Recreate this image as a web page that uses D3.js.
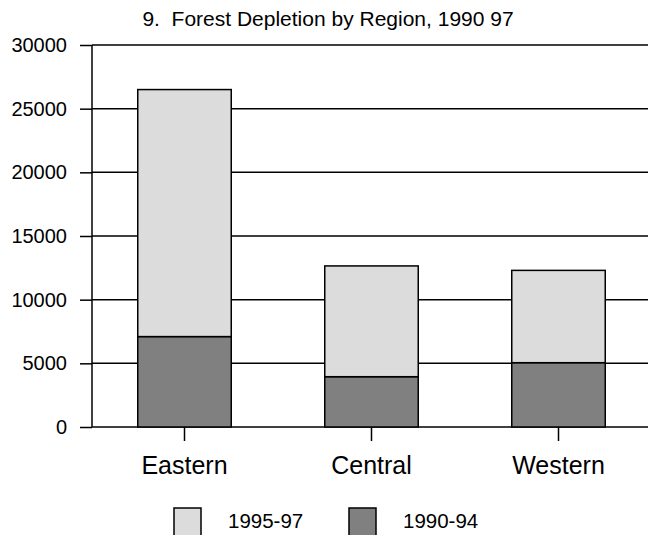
<!DOCTYPE html>
<html><head><meta charset="utf-8">
<script src="https://cdn.jsdelivr.net/npm/d3@7"></script>
<style>body{margin:0;background:#fff}svg{display:block}text{font-family:"Liberation Sans",Arial,sans-serif;fill:#000}</style>
</head><body><svg id="c" width="648" height="535"></svg>
<script>
const categories = ["Eastern","Central","Western"];
const series = ["1990-94","1995-97"];
const v1990_94 = [7100, 3950, 5050];
const v1995_97 = [19400, 8700, 7250];
const yTicks = [0,5000,10000,15000,20000,25000,30000];
const legendItems = ["1995-97","1990-94"];
const colors = {"1990-94":"#808080","1995-97":"#dcdcdc"};

const svg = d3.select("#c");
const x = d3.scaleBand().domain(categories).range([91,652]).paddingInner(0.5).paddingOuter(0.25);
const y = d3.scaleLinear().domain([0,30000]).range([427,45]);

svg.append("text").attr("x",328).attr("y",26).attr("text-anchor","middle").attr("font-size",21)
  .attr("xml:space","preserve").text("9.  Forest Depletion by Region, 1990 97");

// gridlines
svg.append("g").selectAll("line").data(yTicks).join("line")
  .attr("x1",92).attr("x2",648).attr("y1",d=>y(d)).attr("y2",d=>y(d))
  .attr("stroke","#000").attr("stroke-width",1.5);

const yAxis = d3.axisLeft(y).tickValues(yTicks).tickSize(12).tickPadding(13).tickFormat(d3.format("d"));
const gy = svg.append("g").attr("transform","translate(92,0)").call(yAxis);
gy.select(".domain").attr("stroke","#000").attr("stroke-width",1.5).attr("d","M0,45V427");
gy.selectAll(".tick line").attr("stroke","#000").attr("stroke-width",1.5);
gy.selectAll("text").attr("font-size",20).attr("font-family","Liberation Sans, Arial, sans-serif");

const data = categories.map((c,i)=>({cat:c,"1990-94":v1990_94[i],"1995-97":v1995_97[i]}));
const stacked = d3.stack().keys(series)(data);
svg.append("g").selectAll("g").data(stacked).join("g").attr("fill",d=>colors[d.key])
  .selectAll("rect").data(d=>d).join("rect")
  .attr("x",d=>x(d.data.cat)).attr("width",x.bandwidth())
  .attr("y",d=>y(d[1])).attr("height",d=>y(d[0])-y(d[1]))
  .attr("stroke","#000").attr("stroke-width",1.5);

const xAxis = d3.axisBottom(x).tickSize(14).tickPadding(15);
const gx = svg.append("g").attr("transform","translate(0,427)").call(xAxis);
gx.select(".domain").remove();
gx.selectAll(".tick line").attr("stroke","#000").attr("stroke-width",1.5);
gx.selectAll("text").attr("font-size",25).attr("font-family","Liberation Sans, Arial, sans-serif");

// legend
const lg = svg.append("g").selectAll("g").data(legendItems).join("g")
  .attr("transform",(d,i)=>`translate(${174+i*175},508)`);
lg.append("rect").attr("width",27).attr("height",30).attr("fill",d=>colors[d]).attr("stroke","#000").attr("stroke-width",1.5);
lg.append("text").attr("x",54).attr("y",20).attr("font-size",20.5).text(d=>d);
</script></body></html>
